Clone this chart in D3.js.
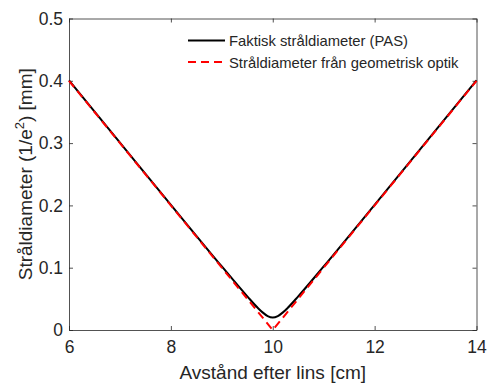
<!DOCTYPE html>
<html>
<head>
<meta charset="utf-8">
<script src="https://cdn.jsdelivr.net/npm/d3@7"></script>
<style>
  body { margin: 0; background: #fff; }
  text { font-family: "Liberation Sans", Arial, sans-serif; fill: #262626; }
</style>
</head>
<body>
<div id="chart"></div>
<script>
// Data
const zActual = [6, 7, 8, 9, 9.5, 9.7, 9.8, 9.9, 10, 10.1, 10.2, 10.3, 10.5, 11, 12, 13, 14];
const wActual = [0.4005, 0.3007, 0.2010, 0.1020, 0.054, 0.036, 0.0283, 0.0224, 0.020, 0.0224, 0.0283, 0.036, 0.054, 0.1020, 0.2010, 0.3007, 0.4005];
const zGeom = [6, 10, 14];
const wGeom = [0.4, 0, 0.4];
const xTicks = [6, 8, 10, 12, 14];
const yTicks = [0, 0.1, 0.2, 0.3, 0.4, 0.5];
const legendLabels = ["Faktisk stråldiameter (PAS)", "Stråldiameter från geometrisk optik"];

const width = 487, height = 383;
const margin = {top: 18.5, right: 10.5, bottom: 53, left: 69};
const innerWidth = width - margin.left - margin.right;
const innerHeight = height - margin.top - margin.bottom;

const svg = d3.select("#chart")
    .append("svg")
    .attr("width", width)
    .attr("height", height)
    .append("g")
    .attr("transform", `translate(${margin.left}, ${margin.top})`);

const x = d3.scaleLinear().domain([6, 14]).range([0, innerWidth]);
const y = d3.scaleLinear().domain([0, 0.5]).range([innerHeight, 0]);

const fmtY = d => d === 0 ? "0" : d3.format(".1f")(d);

// Axes with inward ticks, box on
const styleAxis = g => {
    g.select(".domain").attr("stroke", "#262626").attr("stroke-width", 0.8);
    g.selectAll(".tick line").attr("stroke", "#262626").attr("stroke-width", 0.8);
    g.selectAll("text").style("font-size", "17.5px").attr("fill", "#262626");
};
// top/right axes only carry tick marks
const dropText = g => g.selectAll("text").remove();

svg.append("g")
    .attr("transform", `translate(0, ${innerHeight})`)
    .call(d3.axisBottom(x).tickValues(xTicks).tickSize(-4).tickPadding(11).tickSizeOuter(0))
    .call(styleAxis);

svg.append("g")
    .call(d3.axisTop(x).tickValues(xTicks).tickSize(-4).tickSizeOuter(0))
    .call(styleAxis)
    .call(dropText);

svg.append("g")
    .call(d3.axisLeft(y).tickValues(yTicks).tickSize(-4).tickPadding(6).tickSizeOuter(0).tickFormat(fmtY))
    .call(styleAxis);

svg.append("g")
    .attr("transform", `translate(${innerWidth}, 0)`)
    .call(d3.axisRight(y).tickValues(yTicks).tickSize(-4).tickSizeOuter(0))
    .call(styleAxis)
    .call(dropText);

// Axis labels
svg.append("text")
    .attr("x", innerWidth / 2)
    .attr("y", innerHeight + 49)
    .attr("text-anchor", "middle")
    .style("font-size", "19px")
    .text("Avstånd efter lins [cm]");

const yLabel = svg.append("text")
    .attr("transform", `translate(${-37.5}, ${innerHeight / 2}) rotate(-90)`)
    .attr("text-anchor", "middle")
    .style("font-size", "19px");
yLabel.append("tspan").text("Stråldiameter (1/e");
yLabel.append("tspan").text("2").attr("dy", -8).style("font-size", "13px");
yLabel.append("tspan").text(") [mm]").attr("dy", 8);

// Lines
const line = d3.line()
    .x(d => x(d[0]))
    .y(d => y(d[1]))
    .curve(d3.curveMonotoneX);

svg.append("path")
    .datum(d3.zip(zActual, wActual))
    .attr("fill", "none")
    .attr("stroke", "#000")
    .attr("stroke-width", 2)
    .attr("d", line);

svg.append("path")
    .datum(d3.zip(zGeom, wGeom))
    .attr("fill", "none")
    .attr("stroke", "#ff0000")
    .attr("stroke-width", 2)
    .attr("stroke-dasharray", "8,5")
    .attr("d", d3.line().x(d => x(d[0])).y(d => y(d[1])));

// Legend (no box)
const legend = svg.append("g").attr("transform", `translate(119, 22)`);
const legendStyles = [
    {stroke: "#000", dash: null},
    {stroke: "#ff0000", dash: "8,5"}
];
legendLabels.forEach((label, i) => {
    const row = legend.append("g").attr("transform", `translate(0, ${i * 21.5})`);
    row.append("line")
        .attr("x1", 0).attr("x2", 37)
        .attr("y1", 0).attr("y2", 0)
        .attr("stroke", legendStyles[i].stroke)
        .attr("stroke-width", 2)
        .attr("stroke-dasharray", legendStyles[i].dash);
    row.append("text")
        .attr("x", 41)
        .attr("y", 5.5)
        .style("font-size", "14.8px")
        .text(label);
});
</script>
</body>
</html>
